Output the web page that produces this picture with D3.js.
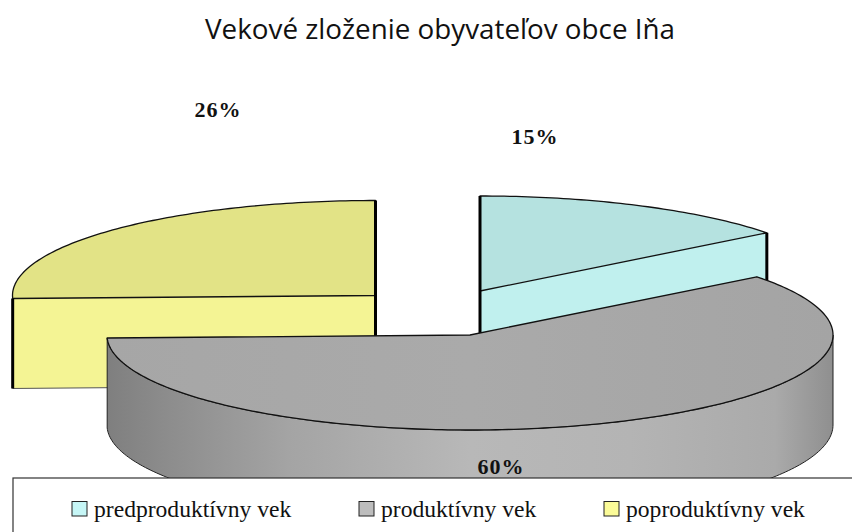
<!DOCTYPE html>
<html>
<head>
<meta charset="utf-8">
<script src="https://cdn.jsdelivr.net/npm/d3@7/dist/d3.min.js"></script>
<style>html,body{margin:0;padding:0;background:#fff}svg{display:block}</style>
</head>
<body>
<svg id="c" width="852" height="532"></svg>
<script>
const title = "Vekové zloženie obyvateľov obce Iňa";
const categories = ["predproduktívny vek", "produktívny vek", "poproduktívny vek"];
const values = [14.5, 60, 25.5];
const valueLabels = ["15%", "60%", "26%"];
const topColors = ["#b5e2e0", "url(#gTop)", "#e2e386"];
const wallColors = ["#c0f0ee", "url(#gWall)", "#f4f494"];
const swatchColors = ["#c6f6f6", "#bdbdbd", "#fbfb98"];
const centers = [[480, 291], [470, 335], [375.5, 295.5]];
const labelPos = [[535, 144], [501, 474], [218, 117]];
const legendX = [[72, 94], [359, 381], [604, 626]];

const rx = 363, ry = 95, depth = 90;
const svg = d3.select("#c");
const defs = svg.append("defs");
function grad(id, stops){
  const g = defs.append("linearGradient").attr("id", id).attr("x1",0).attr("x2",1).attr("y1",0).attr("y2",0);
  stops.forEach(s => g.append("stop").attr("offset", s[0]).attr("stop-color", s[1]));
}
grad("gWall", [[0,"#7f7f7f"],[0.08,"#8c8c8c"],[0.25,"#a4a4a4"],[0.5,"#b8b8b8"],[0.72,"#b4b4b4"],[0.92,"#aaaaaa"],[1,"#8f8f8f"]]);
grad("gTop", [[0,"#a6a6a6"],[0.5,"#aaaaaa"],[1,"#a4a4a4"]]);

const slices = d3.pie().sort(null).value(d => d)(values);
const line = d3.line();
const rimX = d3.scaleLinear().domain([-1,1]).range([-rx,rx]);
const rimY = d3.scaleLinear().domain([-1,1]).range([-ry,ry]);
function rim(c, a){ return [c[0] + rimX(Math.sin(a)), c[1] - rimY(Math.cos(a))]; }
function arcPts(c, a0, a1){
  const n = Math.max(2, Math.ceil((a1 - a0) * 60));
  return d3.range(n + 1).map(i => rim(c, a0 + (a1 - a0) * i / n));
}
const down = p => [p[0], p[1] + depth];

function drawSlice(i){
  const s = slices[i], c = centers[i];
  const g = svg.append("g");
  if (i === 1) {
    const a0 = Math.PI / 2, a1 = s.endAngle;
    const pts = arcPts(c, a0, a1);
    g.append("path").attr("d", line(pts.concat(pts.map(down).reverse())) + "Z")
      .attr("fill", wallColors[i]).attr("stroke", "#222").attr("stroke-width", 1);
  } else {
    [s.startAngle, s.endAngle].forEach(a => {
      const p = rim(c, a);
      g.append("path").attr("d", line([c, p, down(p), down(c)]) + "Z")
        .attr("fill", wallColors[i]).attr("stroke", "none");
    });
    const bp = rim(c, i === 0 ? s.endAngle : s.startAngle);
    g.append("path").attr("d", line([bp, down(bp), down(c)])).attr("fill", "none").attr("stroke", "#555").attr("stroke-width", 1);
  }
  const top = [c].concat(arcPts(c, s.startAngle, s.endAngle));
  g.append("path").attr("d", line(top) + "Z").attr("fill", topColors[i])
    .attr("stroke", "#111").attr("stroke-width", 1.3).attr("stroke-linejoin", "round");
  if (i !== 1) {
    const p = rim(c, i === 0 ? s.endAngle : s.startAngle);
    g.append("path").attr("d", line([[p[0], p[1]], down(p)])).attr("stroke", "#000").attr("stroke-width", 3);
    g.append("path").attr("d", line([[c[0], c[1] - ry], [c[0], c[1] + depth]])).attr("stroke", "#000").attr("stroke-width", 3);
  }
}
drawSlice(0);
drawSlice(2);
drawSlice(1);

svg.append("text").attr("x", 440).attr("y", 39).attr("text-anchor", "middle")
  .attr("font-family", "'Open Sans', sans-serif").attr("font-size", 27.8).attr("fill", "#111").text(title);

valueLabels.forEach((t, i) => {
  svg.append("text").attr("x", labelPos[i][0]).attr("y", labelPos[i][1]).attr("text-anchor", "middle")
    .attr("font-family", "'Liberation Serif', serif").attr("font-weight", "bold").attr("font-size", 22)
    .attr("letter-spacing", 1).attr("fill", "#111").text(t);
});

svg.append("rect").attr("x", 13).attr("y", 478).attr("width", 860).attr("height", 80)
  .attr("fill", "#fff").attr("stroke", "#333").attr("stroke-width", 1.2);

categories.forEach((t, i) => {
  svg.append("rect").attr("x", legendX[i][0]).attr("y", 501.5).attr("width", 15).attr("height", 14.5)
    .attr("fill", swatchColors[i]).attr("stroke", "#222").attr("stroke-width", 1);
  svg.append("text").attr("x", legendX[i][1]).attr("y", 517)
    .attr("font-family", "'Liberation Serif', serif").attr("font-size", 23.6).attr("fill", "#111").text(t);
});
</script>
</body>
</html>
